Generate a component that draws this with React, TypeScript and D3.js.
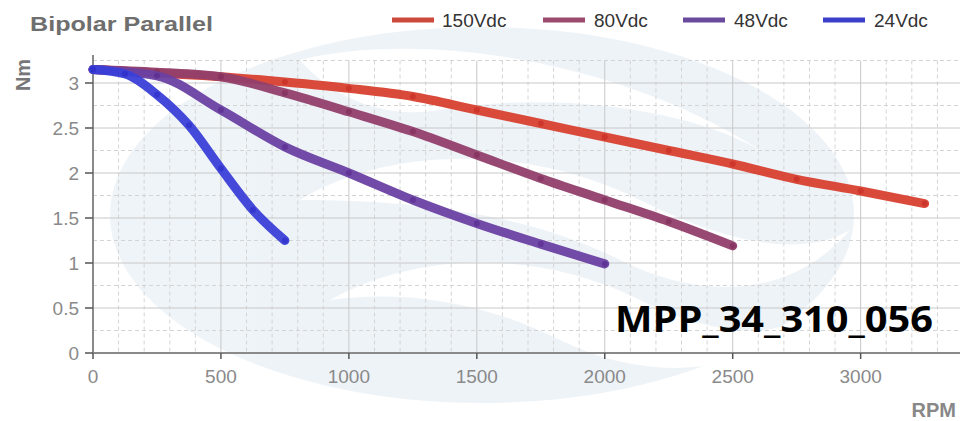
import React from "react";
import * as d3 from "d3";

const rpm150 = [0, 250, 500, 750, 1000, 1250, 1500, 1750, 2000, 2250, 2500, 2750, 3000, 3250];
const nm150 = [3.15, 3.11, 3.07, 3.01, 2.94, 2.85, 2.7, 2.55, 2.4, 2.25, 2.1, 1.93, 1.8, 1.66];
const rpm80 = [0, 250, 500, 750, 1000, 1250, 1500, 1750, 2000, 2250, 2500];
const nm80 = [3.15, 3.12, 3.07, 2.89, 2.68, 2.46, 2.2, 1.94, 1.7, 1.46, 1.19];
const rpm48 = [0, 250, 500, 750, 1000, 1250, 1500, 1750, 2000];
const nm48 = [3.15, 3.08, 2.7, 2.29, 2.0, 1.7, 1.44, 1.21, 0.99];
const rpm24 = [0, 125, 250, 375, 500, 625, 750];
const nm24 = [3.15, 3.1, 2.87, 2.53, 2.05, 1.59, 1.25];

const seriesNames = ["150Vdc", "80Vdc", "48Vdc", "24Vdc"];
const xTicks = [0, 500, 1000, 1500, 2000, 2500, 3000];
const yTicks = [0, 0.5, 1, 1.5, 2, 2.5, 3];

const series = [
  { name: seriesNames[0], xs: rpm150, ys: nm150, color: "#d8402f", dot: "#c42a22" },
  { name: seriesNames[1], xs: rpm80, ys: nm80, color: "#923f6c", dot: "#7d2a58" },
  { name: seriesNames[2], xs: rpm48, ys: nm48, color: "#6a40a2", dot: "#55288c" },
  { name: seriesNames[3], xs: rpm24, ys: nm24, color: "#3a3fd8", dot: "#2a2ac4" },
];

const legendColors = ["#cc4a3c", "#9a4a6c", "#6a4a9c", "#3a3ec8"];
const legendX = [392, 543, 683, 823];
const legendTextX = [442, 594, 734, 874];

export default function App() {
  const W = 960, H = 421;
  const x = d3.scaleLinear().domain([0, 3400]).range([93, 963]);
  const y = d3.scaleLinear().domain([0, 3.25]).range([353, 60.5]);

  const line = d3
    .line<[number, number]>()
    .x((d) => x(d[0]))
    .y((d) => y(d[1]))
    .curve(d3.curveMonotoneX);

  const vGrid = d3.range(0, 3401, 100);
  const hGrid = d3.range(0, 3.26, 0.25);

  return (
    <svg
      width={W}
      height={H}
      style={{ position: "absolute", left: 0, top: 0, background: "#fff" }}
      fontFamily="'Liberation Sans', Arial, sans-serif"
    >
      {/* watermark */}
      <g opacity={0.45}>
        <ellipse cx={482} cy={215} rx={372} ry={188} fill="#dbe6f0" />
        <path
          d="M 300 60 C 420 30, 620 60, 760 150 C 690 110, 560 90, 440 110 C 380 120, 330 95, 300 60 Z"
          fill="#ffffff"
        />
        <path
          d="M 300 200 C 380 150, 520 140, 640 200 C 720 240, 800 260, 850 230 C 790 300, 700 300, 620 260 C 520 210, 400 200, 300 200 Z"
          fill="#ffffff"
        />
        <path
          d="M 330 300 C 420 250, 540 250, 640 300 C 700 330, 760 340, 800 320 C 740 380, 640 380, 560 340 C 480 300, 400 290, 330 300 Z"
          fill="#ffffff"
        />
      </g>

      {/* grid */}
      <g>
        {vGrid.map((v) => (
          <line
            key={"v" + v}
            x1={x(v)}
            x2={x(v)}
            y1={y(3.25)}
            y2={y(0)}
            stroke={v % 500 === 0 ? "#c8c8c8" : "#d4d4d4"}
            strokeWidth={1}
            strokeDasharray={v % 500 === 0 ? undefined : "4,3"}
          />
        ))}
        {hGrid.map((v) => (
          <line
            key={"h" + v}
            x1={x(0)}
            x2={W}
            y1={y(v)}
            y2={y(v)}
            stroke={Math.abs((v * 2) % 1) < 1e-6 ? "#c8c8c8" : "#d4d4d4"}
            strokeWidth={1}
            strokeDasharray={Math.abs((v * 2) % 1) < 1e-6 ? undefined : "4,3"}
          />
        ))}
      </g>

      {/* axes */}
      <line x1={x(0)} x2={x(0)} y1={55} y2={y(0)} stroke="#8a8a8a" strokeWidth={2} />
      <line x1={x(0) - 1} x2={W} y1={y(0)} y2={y(0)} stroke="#8a8a8a" strokeWidth={2} />
      {yTicks.map((t) => (
        <g key={"yt" + t}>
          <line x1={x(0) - 8} x2={x(0)} y1={y(t)} y2={y(t)} stroke="#555" strokeWidth={1.5} />
          <text x={x(0) - 14} y={y(t)} dy="0.36em" textAnchor="end" fontSize={19} fill="#8a8a8a">
            {t}
          </text>
        </g>
      ))}
      {xTicks.map((t) => (
        <g key={"xt" + t}>
          <line x1={x(t)} x2={x(t)} y1={y(0)} y2={y(0) + 6} stroke="#555" strokeWidth={1.5} />
          <text x={x(t)} y={y(0) + 30} textAnchor="middle" fontSize={19} fill="#8a8a8a">
            {t}
          </text>
        </g>
      ))}

      {/* axis titles */}
      <text
        transform={`translate(30, 75) rotate(-90)`}
        textAnchor="middle"
        fontSize={20}
        fontWeight="bold"
        fill="#777"
      >
        Nm
      </text>
      <text x={956} y={417} textAnchor="end" fontSize={20} fontWeight="bold" fill="#888">
        RPM
      </text>

      {/* series */}
      {series.map((s) => {
        const pts: [number, number][] = s.xs.map((v, i) => [v, s.ys[i]]);
        return (
          <g key={s.name}>
            <path
              d={line(pts) || ""}
              fill="none"
              stroke={s.color}
              strokeWidth={9}
              strokeLinecap="round"
              strokeLinejoin="round"
              opacity={0.95}
            />
            {pts.map((p, i) => (
              <circle key={i} cx={x(p[0])} cy={y(p[1])} r={3} fill={s.dot} opacity={0.6} />
            ))}
          </g>
        );
      })}

      {/* title */}
      <text x={30} y={31} fontSize={21} fontWeight="bold" fill="#6e6e6e" textLength={183} lengthAdjust="spacingAndGlyphs">
        Bipolar Parallel
      </text>

      {/* legend */}
      {series.map((s, i) => (
        <g key={"lg" + s.name}>
          <line
            x1={legendX[i]}
            x2={legendX[i] + 42}
            y1={20}
            y2={20}
            stroke={legendColors[i]}
            strokeWidth={5}
          />
          <text x={legendTextX[i]} y={20} dy="0.36em" fontSize={19} fill="#333">
            {s.name}
          </text>
        </g>
      ))}

      {/* model label */}
      <text
        x={615}
        y={332}
        fontSize={35}
        fontWeight="bold"
        fill="#000"
        fontFamily="'Open Sans', sans-serif"
        textLength={318}
        lengthAdjust="spacingAndGlyphs"
      >
        MPP_34_310_056
      </text>
    </svg>
  );
}
